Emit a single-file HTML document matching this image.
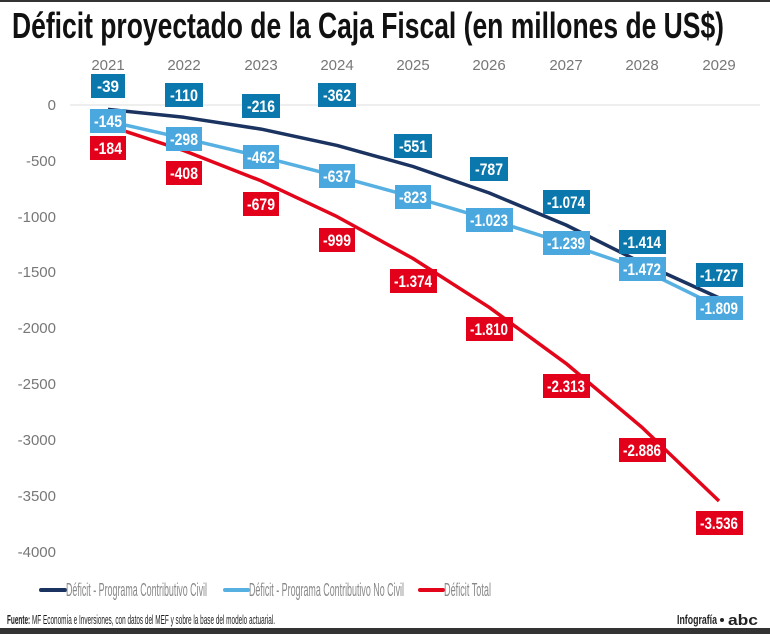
<!DOCTYPE html>
<html><head><meta charset="utf-8"><style>
html,body{margin:0;padding:0;background:#fff;}
svg{display:block;font-family:"Liberation Sans",sans-serif;}
.yl{font-size:15px;fill:#777;text-anchor:end;}
.xl{font-size:15px;fill:#777;text-anchor:middle;}
.lb{font-size:17px;font-weight:bold;fill:#fff;text-anchor:middle;}
.lg{font-size:18px;fill:#888;}
</style></head><body>
<svg width="770" height="634" viewBox="0 0 770 634" xmlns="http://www.w3.org/2000/svg">
<rect x="0" y="0" width="770" height="2" fill="#333"/>
<text x="12" y="38" font-size="36" font-weight="bold" fill="#111" textLength="712" lengthAdjust="spacingAndGlyphs">Déficit proyectado de la Caja Fiscal (en millones de US$)</text>
<line x1="70" y1="105" x2="760" y2="105" stroke="#ddd" stroke-width="1"/>
<g class="yl">
<text x="56" y="110">0</text><text x="56" y="166">-500</text><text x="56" y="222">-1000</text><text x="56" y="277">-1500</text><text x="56" y="333">-2000</text><text x="56" y="389">-2500</text><text x="56" y="445">-3000</text><text x="56" y="501">-3500</text><text x="56" y="557">-4000</text>
</g>
<g class="xl">
<text x="108" y="70">2021</text><text x="184" y="70">2022</text><text x="261" y="70">2023</text><text x="337" y="70">2024</text><text x="413" y="70">2025</text><text x="489" y="70">2026</text><text x="566" y="70">2027</text><text x="642" y="70">2028</text><text x="719" y="70">2029</text>
</g>
<polyline fill="none" stroke="#1b3360" stroke-width="3.5" stroke-linejoin="round" points="108,109.4 184,117.3 261,129.1 337,145.4 413,166.5 489,192.9 566,225 642,262.9 719,297.9"/>
<polyline fill="none" stroke="#56b0e2" stroke-width="3.5" stroke-linejoin="round" points="108,121.2 184,138.3 261,156.6 337,176.2 413,196.9 489,219.3 566,243.4 642,269.4 719,307.1"/>
<polyline fill="none" stroke="#e3061b" stroke-width="3.5" stroke-linejoin="round" points="108,125.6 184,150.6 261,180.8 337,216.6 413,258.5 489,307.2 566,363.4 642,427.4 719,501"/>
<g class="lb">
<rect x="91" y="74" width="34" height="24" fill="#0b78ad"/><text x="108" y="92" textLength="22" lengthAdjust="spacingAndGlyphs">-39</text>
<rect x="165" y="83" width="38" height="24" fill="#0b78ad"/><text x="184" y="101" textLength="28" lengthAdjust="spacingAndGlyphs">-110</text>
<rect x="242" y="94" width="38" height="24" fill="#0b78ad"/><text x="261" y="112" textLength="28" lengthAdjust="spacingAndGlyphs">-216</text>
<rect x="318" y="83" width="38" height="24" fill="#0b78ad"/><text x="337" y="101" textLength="28" lengthAdjust="spacingAndGlyphs">-362</text>
<rect x="394" y="134" width="38" height="24" fill="#0b78ad"/><text x="413" y="152" textLength="28" lengthAdjust="spacingAndGlyphs">-551</text>
<rect x="470" y="157" width="38" height="24" fill="#0b78ad"/><text x="489" y="175" textLength="28" lengthAdjust="spacingAndGlyphs">-787</text>
<rect x="543" y="190" width="47" height="24" fill="#0b78ad"/><text x="566" y="208" textLength="38" lengthAdjust="spacingAndGlyphs">-1.074</text>
<rect x="619" y="230" width="47" height="24" fill="#0b78ad"/><text x="642" y="248" textLength="38" lengthAdjust="spacingAndGlyphs">-1.414</text>
<rect x="696" y="263" width="47" height="24" fill="#0b78ad"/><text x="719" y="281" textLength="38" lengthAdjust="spacingAndGlyphs">-1.727</text>
<rect x="90" y="109" width="36" height="24" fill="#4aa8de"/><text x="108" y="127" textLength="28" lengthAdjust="spacingAndGlyphs">-145</text>
<rect x="166" y="127" width="36" height="24" fill="#4aa8de"/><text x="184" y="145" textLength="28" lengthAdjust="spacingAndGlyphs">-298</text>
<rect x="243" y="145" width="36" height="24" fill="#4aa8de"/><text x="261" y="163" textLength="28" lengthAdjust="spacingAndGlyphs">-462</text>
<rect x="319" y="164" width="36" height="24" fill="#4aa8de"/><text x="337" y="182" textLength="28" lengthAdjust="spacingAndGlyphs">-637</text>
<rect x="395" y="185" width="36" height="24" fill="#4aa8de"/><text x="413" y="203" textLength="28" lengthAdjust="spacingAndGlyphs">-823</text>
<rect x="466" y="208" width="47" height="24" fill="#4aa8de"/><text x="489" y="226" textLength="38" lengthAdjust="spacingAndGlyphs">-1.023</text>
<rect x="543" y="231" width="47" height="24" fill="#4aa8de"/><text x="566" y="249" textLength="38" lengthAdjust="spacingAndGlyphs">-1.239</text>
<rect x="619" y="257" width="47" height="24" fill="#4aa8de"/><text x="642" y="275" textLength="38" lengthAdjust="spacingAndGlyphs">-1.472</text>
<rect x="696" y="296" width="47" height="24" fill="#4aa8de"/><text x="719" y="314" textLength="38" lengthAdjust="spacingAndGlyphs">-1.809</text>
<rect x="90" y="136" width="36" height="24" fill="#e2001a"/><text x="108" y="154" textLength="28" lengthAdjust="spacingAndGlyphs">-184</text>
<rect x="166" y="161" width="36" height="24" fill="#e2001a"/><text x="184" y="179" textLength="28" lengthAdjust="spacingAndGlyphs">-408</text>
<rect x="243" y="192" width="36" height="24" fill="#e2001a"/><text x="261" y="210" textLength="28" lengthAdjust="spacingAndGlyphs">-679</text>
<rect x="319" y="228" width="36" height="24" fill="#e2001a"/><text x="337" y="246" textLength="28" lengthAdjust="spacingAndGlyphs">-999</text>
<rect x="390" y="269" width="47" height="24" fill="#e2001a"/><text x="413" y="287" textLength="38" lengthAdjust="spacingAndGlyphs">-1.374</text>
<rect x="466" y="317" width="47" height="24" fill="#e2001a"/><text x="489" y="335" textLength="38" lengthAdjust="spacingAndGlyphs">-1.810</text>
<rect x="543" y="374" width="47" height="24" fill="#e2001a"/><text x="566" y="392" textLength="38" lengthAdjust="spacingAndGlyphs">-2.313</text>
<rect x="619" y="438" width="47" height="24" fill="#e2001a"/><text x="642" y="456" textLength="38" lengthAdjust="spacingAndGlyphs">-2.886</text>
<rect x="696" y="511" width="47" height="24" fill="#e2001a"/><text x="719" y="529" textLength="38" lengthAdjust="spacingAndGlyphs">-3.536</text>
</g>
<line x1="41" y1="590" x2="65" y2="590" stroke="#1b3360" stroke-width="4" stroke-linecap="round"/>
<text class="lg" x="66" y="596" textLength="141" lengthAdjust="spacingAndGlyphs">Déficit - Programa Contributivo Civil</text>
<line x1="225" y1="590" x2="248" y2="590" stroke="#56b0e2" stroke-width="4" stroke-linecap="round"/>
<text class="lg" x="249" y="596" textLength="155" lengthAdjust="spacingAndGlyphs">Déficit - Programa Contributivo No Civil</text>
<line x1="420" y1="590" x2="443" y2="590" stroke="#e3061b" stroke-width="4" stroke-linecap="round"/>
<text class="lg" x="444" y="596" textLength="47" lengthAdjust="spacingAndGlyphs">Déficit Total</text>
<text x="7" y="624" font-size="13" fill="#222" textLength="268" lengthAdjust="spacingAndGlyphs"><tspan font-weight="bold">Fuente:</tspan> MF Economía e Inversiones, con datos del MEF y sobre la base del modelo actuarial.</text>
<text x="677" y="624" font-size="13" font-weight="bold" fill="#222" textLength="40" lengthAdjust="spacingAndGlyphs">Infografía</text>
<circle cx="722" cy="620" r="2" fill="#222"/>
<text x="728" y="625" font-size="15" font-weight="bold" fill="#222" textLength="30" lengthAdjust="spacingAndGlyphs">abc</text>
<rect x="0" y="628" width="770" height="6" fill="#333"/>
</svg>
</body></html>
